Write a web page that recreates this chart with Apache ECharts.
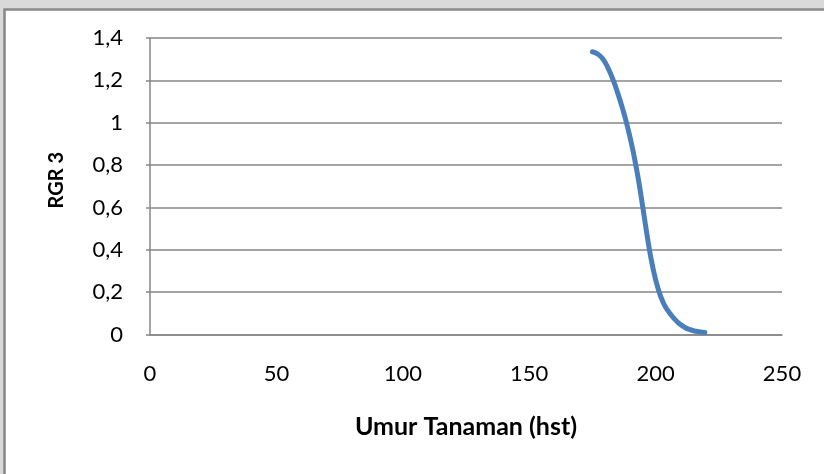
<!DOCTYPE html>
<html>
<head>
<meta charset="utf-8">
<script src="https://cdn.jsdelivr.net/npm/echarts@6/dist/echarts.min.js"></script>
<style>
html,body{margin:0;padding:0;background:#d9d9d9;}
#c{width:824px;height:474px;}
</style>
</head>
<body>
<div id="c"></div>
<script>
// Data
var days = [175, 177, 179, 181, 183, 185, 187, 189, 191, 193, 195, 197, 199, 201, 203, 205, 207, 209, 211, 213, 216, 219.5];
var rgr  = [1.335, 1.325, 1.303, 1.263, 1.208, 1.141, 1.064, 0.976, 0.871, 0.746, 0.596, 0.441, 0.311, 0.216, 0.151, 0.11, 0.08, 0.055, 0.038, 0.025, 0.015, 0.010];
var xTicks = [0, 50, 100, 150, 200, 250];
var yTicks = [0, 0.2, 0.4, 0.6, 0.8, 1, 1.2, 1.4];
var xName = 'Umur Tanaman (hst)';
var yName = 'RGR 3';

var pts = days.map(function (d, i) { return [d, rgr[i]]; });
var chart = echarts.init(document.getElementById('c'), null, {renderer: 'canvas'});
var font = 'Lato';
chart.setOption({
  backgroundColor: '#d9d9d9',
  animation: false,
  graphic: [{
    type: 'rect', z: -10, silent: true,
    shape: {x: 4.5, y: 9.5, width: 900, height: 500},
    style: {fill: '#ffffff', stroke: '#878787', lineWidth: 2.5}
  }],
  grid: {left: 150, right: 42, top: 38, bottom: 139.5, containLabel: false},
  xAxis: {
    type: 'value', min: xTicks[0], max: xTicks[xTicks.length - 1], interval: 50,
    name: xName, nameLocation: 'middle', nameGap: 80,
    nameTextStyle: {fontFamily: font, fontSize: 25, fontWeight: 'bold', color: '#000'},
    axisLine: {show: true, lineStyle: {color: '#868686', width: 1.5}},
    axisTick: {show: false},
    splitLine: {show: false},
    axisLabel: {fontFamily: font, fontSize: 22, color: '#000', margin: 28,
      formatter: function (v) { return String(v); }}
  },
  yAxis: {
    type: 'value', min: yTicks[0], max: yTicks[yTicks.length - 1], interval: 0.2,
    name: yName, nameLocation: 'middle', nameGap: 83, nameRotate: 90,
    nameTextStyle: {fontFamily: font, fontSize: 20, fontWeight: 'bold', color: '#000', padding: [0, 0, 0, 12]},
    axisLine: {show: true, lineStyle: {color: '#868686', width: 1.5}},
    axisTick: {show: true, length: 4, lineStyle: {color: '#868686', width: 1.5}},
    splitLine: {show: true, lineStyle: {color: '#868686', width: 1.5}},
    axisLabel: {fontFamily: font, fontSize: 22, color: '#000', margin: 27,
      formatter: function (v) { return String(Math.round(v * 10) / 10).replace('.', ','); }}
  },
  series: [{
    type: 'line', data: pts, smooth: 0.5, showSymbol: false,
    lineStyle: {color: '#4a7ebb', width: 5, cap: 'round', join: 'round'}
  }]
});
</script>
</body>
</html>
